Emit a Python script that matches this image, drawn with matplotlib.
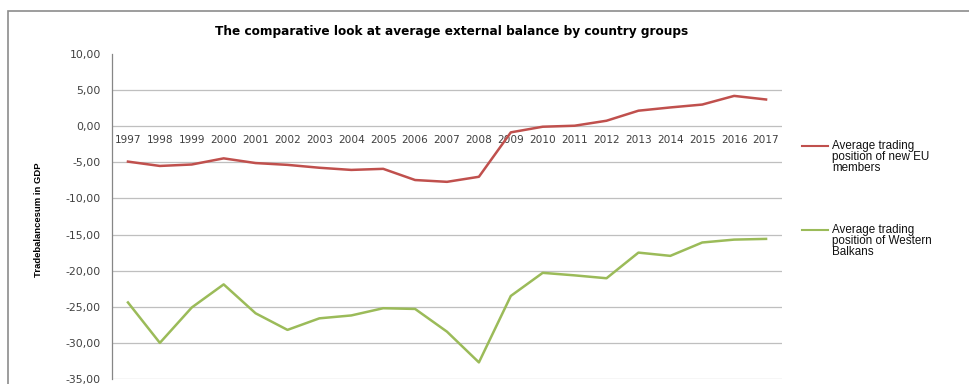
import matplotlib.pyplot as plt
from matplotlib.lines import Line2D
from matplotlib.patches import Rectangle
from matplotlib.ticker import FuncFormatter, MultipleLocator

years = [str(y) for y in range(1997, 2018)]

# Average trade balance, % of GDP
new_eu = [-4.9, -5.5, -5.3, -4.45, -5.1, -5.35, -5.75, -6.05, -5.9, -7.45, -7.7,
          -7.0, -0.85, -0.07, 0.07, 0.76, 2.15, 2.6, 3.0, 4.2, 3.7]
western_balkans = [-24.4, -30.0, -25.1, -21.9, -25.9, -28.2, -26.6, -26.2, -25.2, -25.3,
                   -28.45, -32.7, -23.5, -20.3, -20.65, -21.05, -17.5, -17.95, -16.1,
                   -15.7, -15.6]

label_eu = "Average trading\nposition of new EU\nmembers"
label_wb = "Average trading\nposition of Western\nBalkans"

red = "#C0504D"
green = "#9BBB59"

W, H = 970, 384
fig = plt.figure(figsize=(W / 100, H / 100), dpi=100)

# chart frame
fig.add_artist(Rectangle((8 / W, -0.05), 1.1, 1 - 11 / H + 0.05,
                         transform=fig.transFigure, fill=False,
                         edgecolor="#8C8C8C", linewidth=1.2))

ax = fig.add_axes([112 / W, 1 - 379 / H, (782 - 112) / W, (379 - 54) / H])

x = list(range(len(years)))
ax.plot(x, new_eu, color=red, linewidth=1.8, label=label_eu)
ax.plot(x, western_balkans, color=green, linewidth=1.8, label=label_wb)

ax.set_xlim(-0.5, len(years) - 0.5)
ax.set_ylim(-35, 10)
ax.yaxis.set_major_locator(MultipleLocator(5))
ax.yaxis.set_major_formatter(FuncFormatter(lambda v, p: f"{v:.2f}".replace(".", ",")))

# horizontal gridlines (none on the top value)
for v in range(-35, 10, 5):
    ax.axhline(v, color="#BFBFBF", linewidth=0.9, zorder=0)

# category axis sits at zero
ax.spines["bottom"].set_position(("data", 0))
ax.spines["bottom"].set_visible(False)
ax.spines["top"].set_visible(False)
ax.spines["right"].set_visible(False)
ax.spines["left"].set_color("#868686")
ax.spines["left"].set_linewidth(0.9)
ax.set_xticks(x)
ax.set_xticklabels(years)
ax.tick_params(axis="x", length=0, pad=6, labelsize=7.6, labelcolor="#404040")
ax.tick_params(axis="y", length=0, pad=8, labelsize=7.8, labelcolor="#404040")

ax.set_ylabel("Tradebalancesum in GDP", fontsize=6.8, fontweight="bold",
              family="Liberation Sans")
ax.yaxis.set_label_coords(43 / W, 1 - 220 / H, transform=fig.transFigure)

fig.text(452 / W, 1 - 32 / H,
         "The comparative look at average external balance by country groups",
         ha="center", va="center", fontsize=8.7, fontweight="bold",
         family="DejaVu Sans")

# legend entries, handle level with first text line
for text, color, ytop in [(label_eu, red, 146), (label_wb, green, 230)]:
    fig.add_artist(Line2D([802 / W, 828 / W], [1 - ytop / H] * 2,
                          transform=fig.transFigure, color=color, linewidth=1.5))
    fig.text(832 / W, 1 - (ytop - 6) / H, text, ha="left", va="top",
             fontsize=8.4, family="Liberation Sans", linespacing=0.88,
             color="#111111")

fig.savefig("out.png", dpi=100)
